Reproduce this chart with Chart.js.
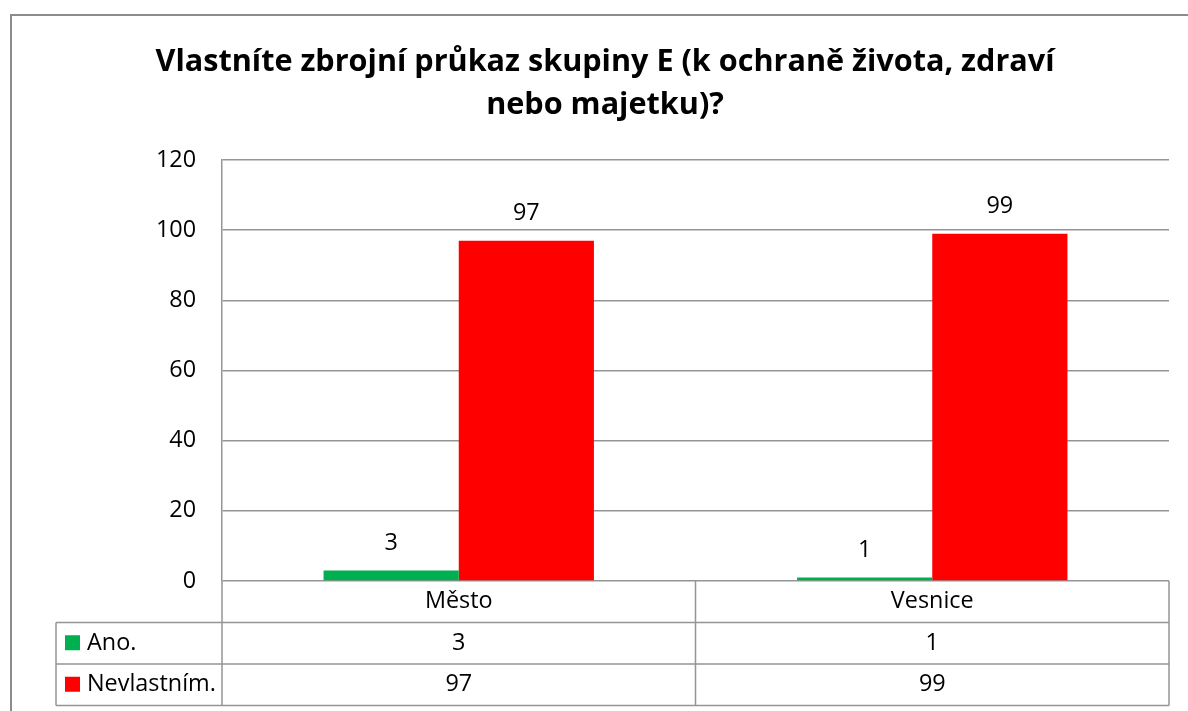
<!DOCTYPE html>
<html>
<head>
<meta charset="utf-8">
<script src="https://cdn.jsdelivr.net/npm/chart.js@4.4.1/dist/chart.umd.min.js"></script>
<style>
  html, body { margin: 0; padding: 0; background: #fff; }
  #wrap { width: 1188px; height: 711px; position: relative; }
</style>
</head>
<body>
<div id="wrap"><canvas id="chart" width="1188" height="711"></canvas></div>
<script>
// chart data
const titleLines = ['Vlastníte zbrojní průkaz skupiny E (k ochraně života, zdraví', 'nebo majetku)?'];
const categories = ['Město', 'Vesnice'];
const seriesNames = ['Ano.', 'Nevlastním.'];
const anoValues = [3, 1];
const nevlastnimValues = [97, 99];
const seriesColors = ['#00B050', '#FF0000'];
const yTicks = [0, 20, 40, 60, 80, 100, 120];

const FONT = '"Open Sans", "Noto Sans", sans-serif';
const TEXT_SIZE = 23.4;
const lineColor = '#959595';

// title + outer frame
const framePlugin = {
  id: 'frame',
  beforeDraw(chart) {
    const ctx = chart.ctx;
    ctx.save();
    ctx.fillStyle = '#fff';
    ctx.fillRect(0, 0, chart.width, chart.height);
    ctx.strokeStyle = '#8c8c8c';
    ctx.lineWidth = 2;
    ctx.beginPath();
    ctx.moveTo(11, chart.height + 5);
    ctx.lineTo(11, 15);
    ctx.lineTo(chart.width + 5, 15);
    ctx.stroke();
    ctx.fillStyle = '#000';
    ctx.font = 'bold 30.6px ' + FONT;
    ctx.textAlign = 'center';
    ctx.textBaseline = 'middle';
    ctx.fillText(titleLines[0], 605, 62);
    ctx.fillText(titleLines[1], 605, 105);
    ctx.restore();
  }
};

// value labels above bars
const valueLabels = {
  id: 'valueLabels',
  afterDatasetsDraw(chart) {
    const ctx = chart.ctx;
    ctx.save();
    ctx.fillStyle = '#000';
    ctx.font = TEXT_SIZE + 'px ' + FONT;
    ctx.textAlign = 'center';
    ctx.textBaseline = 'middle';
    chart.data.datasets.forEach((ds, i) => {
      chart.getDatasetMeta(i).data.forEach((bar, j) => {
        ctx.fillText(String(ds.data[j]), bar.x, bar.y - 27);
      });
    });
    ctx.restore();
  }
};

// data table under the plot
const dataTable = {
  id: 'dataTable',
  afterDraw(chart) {
    const ctx = chart.ctx;
    const area = chart.chartArea;
    const xs = chart.scales.x;
    const n = categories.length;
    const colW = (area.right - area.left) / n;
    const rowH = 41.5;
    const top = area.bottom;
    const legendLeft = 56;
    const bottom = top + rowH * 3;

    ctx.save();
    ctx.strokeStyle = lineColor;
    ctx.lineWidth = 1.5;
    ctx.beginPath();
    ctx.moveTo(area.left, top); ctx.lineTo(area.left, bottom);
    ctx.moveTo(area.right, top); ctx.lineTo(area.right, bottom);
    for (let i = 1; i < n; i++) {
      const x = area.left + colW * i;
      ctx.moveTo(x, top); ctx.lineTo(x, bottom);
    }
    for (let r = 1; r <= 3; r++) {
      const y = top + rowH * r;
      ctx.moveTo(legendLeft, y); ctx.lineTo(area.right, y);
    }
    ctx.moveTo(legendLeft, top + rowH); ctx.lineTo(legendLeft, bottom);
    ctx.stroke();

    ctx.fillStyle = '#000';
    ctx.font = TEXT_SIZE + 'px ' + FONT;
    ctx.textBaseline = 'middle';
    ctx.textAlign = 'center';
    categories.forEach((c, i) => {
      ctx.fillText(c, xs.getPixelForValue(i), top + rowH / 2);
    });
    const rows = [anoValues, nevlastnimValues];
    rows.forEach((vals, r) => {
      const cy = top + rowH * (r + 1) + rowH / 2;
      vals.forEach((v, i) => {
        ctx.fillText(String(v), xs.getPixelForValue(i), cy);
      });
      ctx.fillStyle = seriesColors[r];
      ctx.fillRect(65, cy - 8, 15, 15);
      ctx.fillStyle = '#000';
      ctx.textAlign = 'left';
      ctx.fillText(seriesNames[r], 87, cy);
      ctx.textAlign = 'center';
    });
    ctx.restore();
  }
};

new Chart(document.getElementById('chart'), {
  type: 'bar',
  data: {
    labels: categories,
    datasets: [
      { label: seriesNames[0], data: anoValues, backgroundColor: seriesColors[0] },
      { label: seriesNames[1], data: nevlastnimValues, backgroundColor: seriesColors[1] }
    ]
  },
  options: {
    responsive: false,
    animation: false,
    layout: { padding: { left: 0, right: 19, top: 160, bottom: 130 } },
    datasets: { bar: { categoryPercentage: 0.571, barPercentage: 1, borderWidth: 0 } },
    plugins: {
      legend: { display: false },
      title: { display: false },
      tooltip: { enabled: false }
    },
    scales: {
      x: { display: false },
      y: {
        min: yTicks[0],
        max: yTicks[yTicks.length - 1],
        afterBuildTicks(scale) { scale.ticks = yTicks.map(v => ({ value: v })); },
        afterFit(scale) { scale.width = 222; },
        ticks: { color: '#000', font: { family: FONT, size: TEXT_SIZE }, padding: 26 },
        grid: { color: lineColor, lineWidth: 1.5, drawTicks: false },
        border: { display: true, color: lineColor, width: 1.5 }
      }
    }
  },
  plugins: [framePlugin, valueLabels, dataTable]
});
</script>
</body>
</html>
